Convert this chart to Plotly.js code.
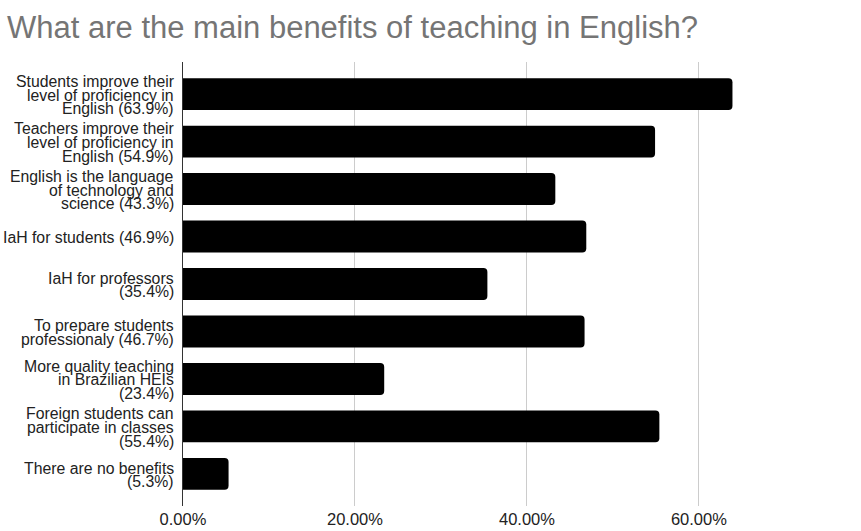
<!DOCTYPE html>
<html>
<head>
<meta charset="utf-8">
<script src="https://cdn.plot.ly/plotly-3.0.1.min.js"></script>
<style>html,body{margin:0;padding:0;background:#fff;}#chart{width:861px;height:531px;}</style>
</head>
<body>
<div id="chart"></div>
<script>
const chartTitle = "What are the main benefits of teaching in English?";
const categories = [
  "Students improve their<br>level of proficiency in<br>English (63.9%)",
  "Teachers improve their<br>level of proficiency in<br>English (54.9%)",
  "English is the language<br>of technology and<br>science (43.3%)",
  "IaH for students (46.9%)",
  "IaH for professors<br>(35.4%)",
  "To prepare students<br>professionaly (46.7%)",
  "More quality teaching<br>in Brazilian HEIs<br>(23.4%)",
  "Foreign students can<br>participate in classes<br>(55.4%)",
  "There are no benefits<br>(5.3%)"
];
const values = [63.9, 54.9, 43.3, 46.9, 35.4, 46.7, 23.4, 55.4, 5.3];
const xTickVals = [0, 20, 40, 60];
const xTickText = ["0.00%", "20.00%", "40.00%", "60.00%"];

const FONT = '"Liberation Sans", Arial, sans-serif';
const lineH = 13.8;
const annotations = [];
categories.forEach(function (cat) {
  const lines = cat.split('<br>');
  const n = lines.length;
  lines.forEach(function (ln, i) {
    annotations.push({
      xref: 'paper', x: 0, xanchor: 'right', xshift: -7,
      yref: 'y', y: cat, yanchor: 'middle',
      yshift: ((n - 1) / 2 - i) * lineH - 1,
      text: ln, showarrow: false, align: 'right',
      font: {family: FONT, size: 15.8, color: '#222222'}
    });
  });
});

const trace = {
  type: 'bar', orientation: 'h',
  x: values, y: categories,
  marker: {color: '#000000', line: {width: 0}},
  hoverinfo: 'none'
};

const layout = {
  width: 861, height: 531,
  margin: {l: 183, r: 3, t: 62, b: 25, pad: 0},
  paper_bgcolor: '#ffffff', plot_bgcolor: '#ffffff',
  font: {family: FONT, color: '#222222'},
  title: {
    text: chartTitle,
    font: {family: FONT, size: 31, color: '#757575'},
    xref: 'container', x: 7 / 861, xanchor: 'left',
    yref: 'container', y: 1 - 27 / 531, yanchor: 'middle'
  },
  bargap: 0.33,
  barcornerradius: 4,
  showlegend: false,
  xaxis: {
    range: [0, 78.5],
    tickmode: 'array', tickvals: xTickVals, ticktext: xTickText,
    showgrid: true, gridcolor: '#cccccc', gridwidth: 1,
    zeroline: false, showline: false, ticks: '',
    tickfont: {family: FONT, size: 16.5, color: '#222222'},
    ticklabelstandoff: 1,
    fixedrange: true,
    automargin: false
  },
  yaxis: {
    type: 'category',
    range: [8.675, -0.675],
    showticklabels: false, showgrid: false, zeroline: false,
    showline: true, linecolor: '#333333', linewidth: 1,
    ticks: '', fixedrange: true
  },
  annotations: annotations
};

Plotly.newPlot('chart', [trace], layout, {displayModeBar: false, staticPlot: true});
</script>
</body>
</html>
